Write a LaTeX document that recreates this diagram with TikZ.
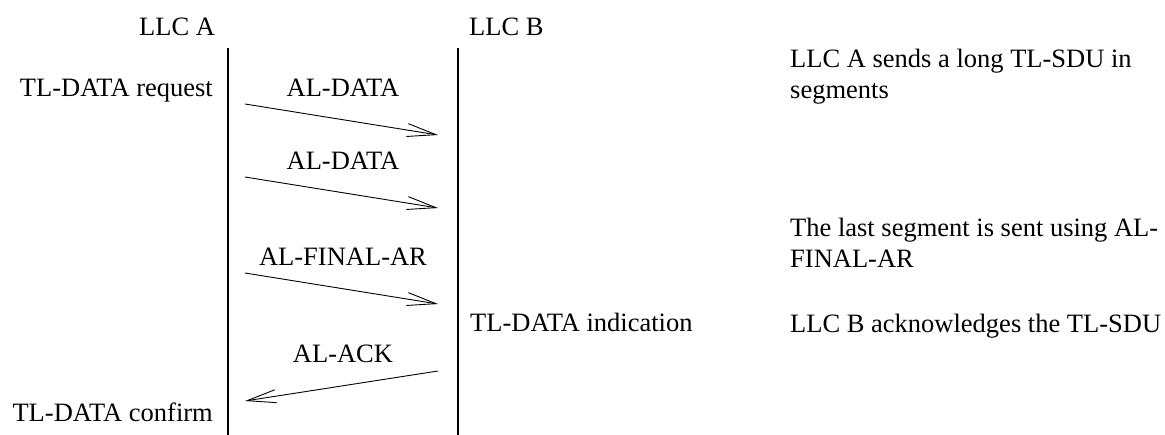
\documentclass[tikz,border=0pt]{standalone}
\usepackage{fontspec}
\setmainfont{Liberation Serif}
\usetikzlibrary{arrows.meta}
\begin{document}
\begin{tikzpicture}[x=1pt,y=-1pt,
  lbl/.style={inner sep=0pt, font=\fontsize{26.5}{30.5}\selectfont},
  note/.style={lbl, align=left, anchor=north west},
  life/.style={line width=1.6pt},
  msg/.style={line width=0.9pt, -{Straight Barb[length=29pt,width=13pt,line width=0.9pt]}}]
\useasboundingbox (0,0) rectangle (1165,435);
% headers
\node[lbl,anchor=base west] (llcA) at (139,36) {LLC A};
\node[lbl,anchor=base west] (llcB) at (469,36) {LLC B};
% lifelines
\coordinate (Atop) at (228,48); \coordinate (Abot) at (228,435);
\coordinate (Btop) at (458,48); \coordinate (Bbot) at (458,435);
\draw[life] (Atop) -- (Abot);
\draw[life] (Btop) -- (Bbot);
% primitives at the side
\node[lbl,anchor=base east] (req) at (213,97) {TL-DATA request};
\node[lbl,anchor=base west] (ind) at (470,332) {TL-DATA indication};
\node[lbl,anchor=base east] (cnf) at (213,422) {TL-DATA confirm};
% messages
\node[lbl,anchor=base] (m1) at (343,97) {AL-DATA};
\coordinate (m1s) at (245,104); \coordinate (m1e) at (438,135);
\draw[msg] (m1s) -- (m1e);
\node[lbl,anchor=base] (m2) at (343,170) {AL-DATA};
\coordinate (m2s) at (245,177); \coordinate (m2e) at (438,208);
\draw[msg] (m2s) -- (m2e);
\node[lbl,anchor=base] (m3) at (343,266) {AL-FINAL-AR};
\coordinate (m3s) at (245,273); \coordinate (m3e) at (438,304);
\draw[msg] (m3s) -- (m3e);
\node[lbl,anchor=base] (m4) at (343,363) {AL-ACK};
\coordinate (m4s) at (438,371); \coordinate (m4e) at (245,401);
\draw[msg] (m4s) -- (m4e);
% comments
\node[note] (c1) at (790,49) {LLC A sends a long TL-SDU in\\segments};
\node[note] (c2) at (790,218) {The last segment is sent using AL-\\FINAL-AR};
\node[lbl,anchor=base west] (c3) at (790,333) {LLC B acknowledges the TL-SDU};
\end{tikzpicture}
\end{document}
